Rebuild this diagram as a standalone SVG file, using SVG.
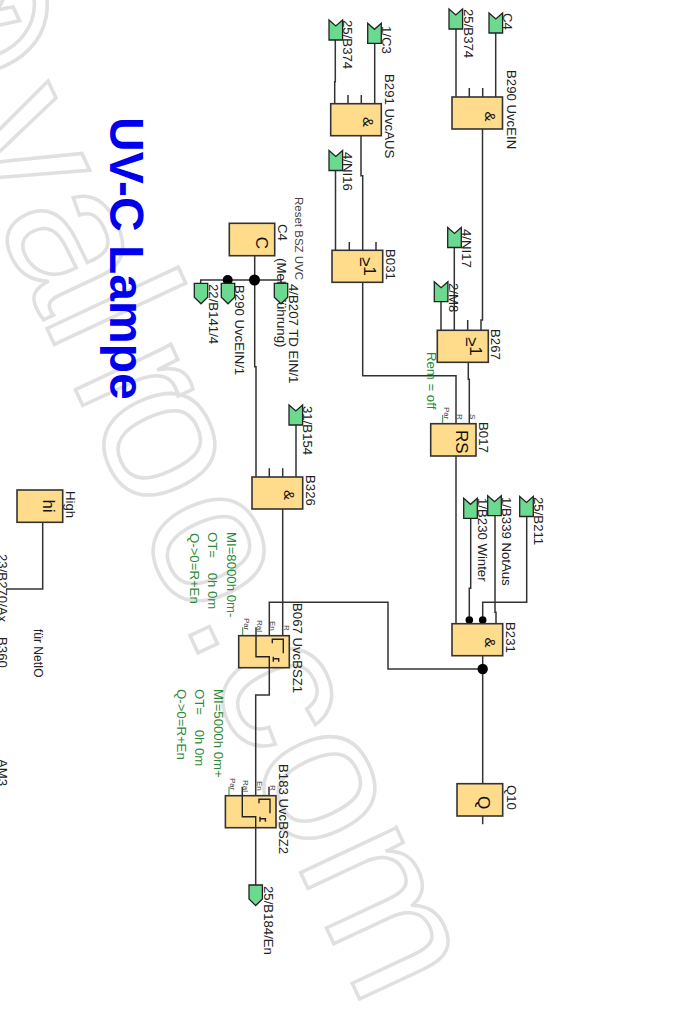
<svg xmlns="http://www.w3.org/2000/svg" width="675" height="1035" viewBox="0 0 675 1035">
<defs>
<style>
text{font-family:"Liberation Sans",Arial,sans-serif;font-size:13.2px;fill:#222}
.wm{font-size:200px;fill:none;stroke:#e0e0e0;stroke-width:3.5}
.title{font-size:48px;font-weight:bold;fill:#0000ee}
.g{fill:#2a8a35}
.sm{font-size:8px;fill:#444}
.sym{font-size:15px;text-anchor:middle;fill:#111}
.ge{font-size:17px;fill:#111}
.big{font-size:17px;text-anchor:middle;fill:#111}
.b{fill:#fedc8c;stroke:#333;stroke-width:1.6}
.m{fill:#6bd98f;stroke:#222;stroke-width:1.3}
.w{fill:none;stroke:#333;stroke-width:1.5}
.gw{fill:none;stroke:#2a8a35;stroke-width:1}
.i{fill:none;stroke:#222;stroke-width:1.4}
.d{fill:#000}
</style>
<path id="in" class="m" d="M0,0 L6.8,6 L13.6,0 V20 H0 Z"/>
<path id="out" class="m" d="M0,0 H13.4 V14 L6.7,20.5 L0,14 Z"/>
<g id="bsz">
<rect class="b" width="50.6" height="32"/>
<path class="i" d="M33.600,7.600 V3.600 H44.600 V17.600 M34.600,21 V26 M34.600,23 H40 V26"/>
</g>
</defs>
<text class="wm" transform="translate(304,880) rotate(65)" x="-1050 -833 -729 -622 -555 -511.600 -395 -288 -230 -133 -22">@valroo.com</text>
<g id="connectors">
<path class="w" d="M456,29 V97 M495.700,33 V97 M469.300,88 V97 M482.700,88 V97"/>
<path class="w" d="M335.300,40 V81.700 H334.700 V103.700 M374.700,43 V103.700 M348,95 V103.700 M361.300,95 V103.700"/>
<path class="w" d="M335.500,170 V250.300 M361,135.700 V175.700 H362.700 V250.300 M349.300,242 V250.300 M376,242 V250.300"/>
<path class="w" d="M362.700,282.300 V375.700 H456 V423.700"/>
<path class="w" d="M482.500,129 V320 H481 V330.300 M454.300,247.700 V330.300 M441,301.700 V330.300 M467.700,320 V330.300"/>
<path class="w" d="M468.300,362.300 V379.300 H469.300 V423.700"/>
<path class="gw" d="M442.700,415 V423.700"/>
<path class="w" d="M456,456 V623.700"/>
<path class="w" d="M470.700,518 V588.300 H469.300 V623.700 M495,515.700 V612.300 H496 V623.700 M526.700,516.700 V602.300 H482.700 V623.700"/>
<path class="w" d="M482.700,655.700 V783.700 M482.700,816 V824.300"/>
<path class="w" d="M482.700,669 H388 V602.300 H269.300 V635.700"/>
<path class="w" d="M254.700,255.700 V366.700 H256 V477 M200.700,283.300 V280 H281 V283.300 M227.700,280 V283.300"/>
<path class="w" d="M296,425 V477 M269.300,468.300 V477 M282.700,468.300 V477"/>
<path class="w" d="M282.700,509 V635.700 M256,627.300 V635.700"/>
<path class="gw" d="M242.700,627.300 V635.700"/>
<path class="w" d="M269.300,667.700 V695 H255.700 V795.700 M242.300,786.700 V795.700 M269,786.700 V795.700"/>
<path class="gw" d="M229,786.700 V795.700"/>
<path class="w" d="M255.700,827.700 V885"/>
<path class="w" d="M42.700,522.300 V589 H6"/>
<circle class="d" cx="254.500" cy="280" r="5.500"/>
<circle class="d" cx="227.700" cy="280" r="5"/>
<circle class="d" cx="469.300" cy="620" r="3.800"/>
<circle class="d" cx="482.700" cy="620" r="3.800"/>
<circle class="d" cx="482.700" cy="669" r="5.200"/>
</g>
<text class="title" transform="translate(110,117) rotate(90)">UV-C Lampe</text>
<g id="n-b290-in1"><use href="#in" x="449" y="9"/><text transform="translate(463.500,9) rotate(90)">25/B374</text></g>
<g id="n-c4-in"><use href="#in" x="489" y="13"/><text transform="translate(503,13) rotate(90)">C4</text></g>
<g id="n-b290"><rect class="b" x="452" y="97" width="50.500" height="32"/><text class="sym" transform="translate(484.500,116.500) rotate(90)">&amp;</text><text transform="translate(506.500,70) rotate(90)">B290 UvcEIN</text></g>
<g id="n-b291-in1"><use href="#in" x="329" y="20"/><text transform="translate(343,20) rotate(90)">25/B374</text></g>
<g id="n-b291-in2"><use href="#in" x="367.700" y="23.300"/><text transform="translate(382,26) rotate(90)">1/C3</text></g>
<g id="n-b291"><rect class="b" x="330.700" y="103.700" width="50.600" height="32"/><text class="sym" transform="translate(363,122) rotate(90)">&amp;</text><text transform="translate(384.500,74) rotate(90)">B291 UvcAUS</text></g>
<g id="n-ni16"><use href="#in" x="329" y="150.500"/><text transform="translate(343,152) rotate(90)">4/NI16</text></g>
<g id="n-b031"><rect class="b" x="332" y="250.300" width="50.700" height="32"/><text class="ge" transform="translate(360,257) rotate(90)"><tspan>≥</tspan><tspan dy="-4">1</tspan></text><text transform="translate(386,249) rotate(90)">B031</text></g>
<g id="n-ni17"><use href="#in" x="447.700" y="227.500"/><text transform="translate(462,229) rotate(90)">4/NI17</text></g>
<g id="n-m8"><use href="#in" x="434.300" y="281.700"/><text transform="translate(448.500,283) rotate(90)">2/M8</text></g>
<g id="n-b267"><rect class="b" x="437.300" y="330.300" width="51" height="32"/><text class="ge" transform="translate(465.500,337) rotate(90)"><tspan>≥</tspan><tspan dy="-4">1</tspan></text><text transform="translate(491,329) rotate(90)">B267</text></g>
<text class="g" transform="translate(427,352) rotate(90)">Rem = off</text>
<g id="n-b017"><rect class="b" x="430.700" y="423.700" width="45.300" height="32.300"/><text class="big" transform="translate(456,441.700) rotate(90)">RS</text><text transform="translate(479,422) rotate(90)">B017</text>
<text class="sm" transform="translate(444,407) rotate(90)">Par</text><text class="sm" transform="translate(457,414) rotate(90)">R</text><text class="sm" transform="translate(470,414) rotate(90)">S</text></g>
<g id="n-b230"><use href="#in" x="463.700" y="498.300"/><text transform="translate(477.700,498) rotate(90)">1/B230 Winter</text></g>
<g id="n-b339"><use href="#in" x="487.700" y="495.700"/><text transform="translate(501.700,497) rotate(90)">1/B339 NotAus</text></g>
<g id="n-b211"><use href="#in" x="519.700" y="496.500"/><text transform="translate(534,497) rotate(90)">25/B211</text></g>
<g id="n-b231"><rect class="b" x="452" y="623.700" width="50.700" height="32"/><text class="sym" transform="translate(484.500,642.500) rotate(90)">&amp;</text><text transform="translate(506,622) rotate(90)">B231</text></g>
<g id="n-q10"><rect class="b" x="457" y="783.700" width="45.700" height="32.300"/><text class="big" transform="translate(477.700,802.500) rotate(90)">Q</text><text transform="translate(506.700,785) rotate(90)">Q10</text></g>
<text transform="translate(277,258) rotate(90)">(Meldeführung)</text>
<g id="n-c4"><rect class="b" x="229.300" y="223.300" width="45.400" height="32.400"/><text class="big" transform="translate(255.500,243) rotate(90)">C</text><text transform="translate(277.500,224) rotate(90)">C4</text></g>
<text style="font-size:11.500px;fill:#444" transform="translate(295,197) rotate(90)">Reset BSZ UVC</text>
<g id="n-o1"><use href="#out" x="194.300" y="283.300"/><text transform="translate(209,284) rotate(90)">22/B141/4</text></g>
<g id="n-o2"><use href="#out" x="221.300" y="283.300"/><text transform="translate(235,285) rotate(90)">B290 UvcEIN/1</text></g>
<g id="n-o3"><use href="#out" x="274.300" y="283.300"/><text transform="translate(289,284) rotate(90)">4/B207 TD EIN/1</text></g>
<g id="n-b154"><use href="#in" x="289" y="405"/><text transform="translate(303.300,406) rotate(90)">31/B154</text></g>
<g id="n-b326"><rect class="b" x="252" y="477" width="50.700" height="32"/><text class="sym" transform="translate(283.500,495) rotate(90)">&amp;</text><text transform="translate(306,475) rotate(90)">B326</text></g>
<g class="gt">
<text class="g" transform="translate(227.300,532) rotate(90)">MI=8000h 0m-</text>
<text class="g" xml:space="preserve" transform="translate(208.300,532) rotate(90)">OT=    0h 0m</text>
<text class="g" transform="translate(190,533) rotate(90)">Q-&gt;0=R+En</text>
<text class="g" transform="translate(214,689) rotate(90)">MI=5000h 0m+</text>
<text class="g" xml:space="preserve" transform="translate(195,689) rotate(90)">OT=    0h 0m</text>
<text class="g" transform="translate(176.700,689) rotate(90)">Q-&gt;0=R+En</text>
</g>
<g id="n-b067"><use href="#bsz" x="238.700" y="635.700"/><path class="i" d="M256,635.700 V656.700 H269.300 V667.700"/><text transform="translate(292.700,603) rotate(90)">B067 UvcBSZ1</text>
<text class="sm" transform="translate(243.500,618) rotate(90)">Par</text><text class="sm" transform="translate(257,620) rotate(90)">Ral</text><text class="sm" transform="translate(270.300,621) rotate(90)">En</text><text class="sm" transform="translate(283.700,625) rotate(90)">R</text></g>
<g id="n-b183"><use href="#bsz" x="225.400" y="795.700"/><path class="i" d="M242.300,795.700 V816.700 H255.700 V827.700"/><text transform="translate(279.300,764) rotate(90)">B183 UvcBSZ2</text>
<text class="sm" transform="translate(230,778) rotate(90)">Par</text><text class="sm" transform="translate(243.300,780) rotate(90)">Ral</text><text class="sm" transform="translate(256.700,781) rotate(90)">En</text><text class="sm" transform="translate(270,785) rotate(90)">R</text></g>
<g id="n-b184"><use href="#out" x="249" y="885"/><text transform="translate(263.500,886) rotate(90)">25/B184/En</text></g>
<g id="n-hi"><rect class="b" x="17" y="490" width="45.700" height="32.300"/><text class="big" transform="translate(43.300,506) rotate(90)">hi</text><text transform="translate(66,491) rotate(90)">High</text></g>
<text transform="translate(-2,554) rotate(90)">23/B270/Ax</text>
<text style="font-size:12px" transform="translate(34.300,629) rotate(90)">für NetIO</text>
<text transform="translate(-2,637) rotate(90)">B360</text>
<text transform="translate(-2,759) rotate(90)">AM3</text>
</svg>
